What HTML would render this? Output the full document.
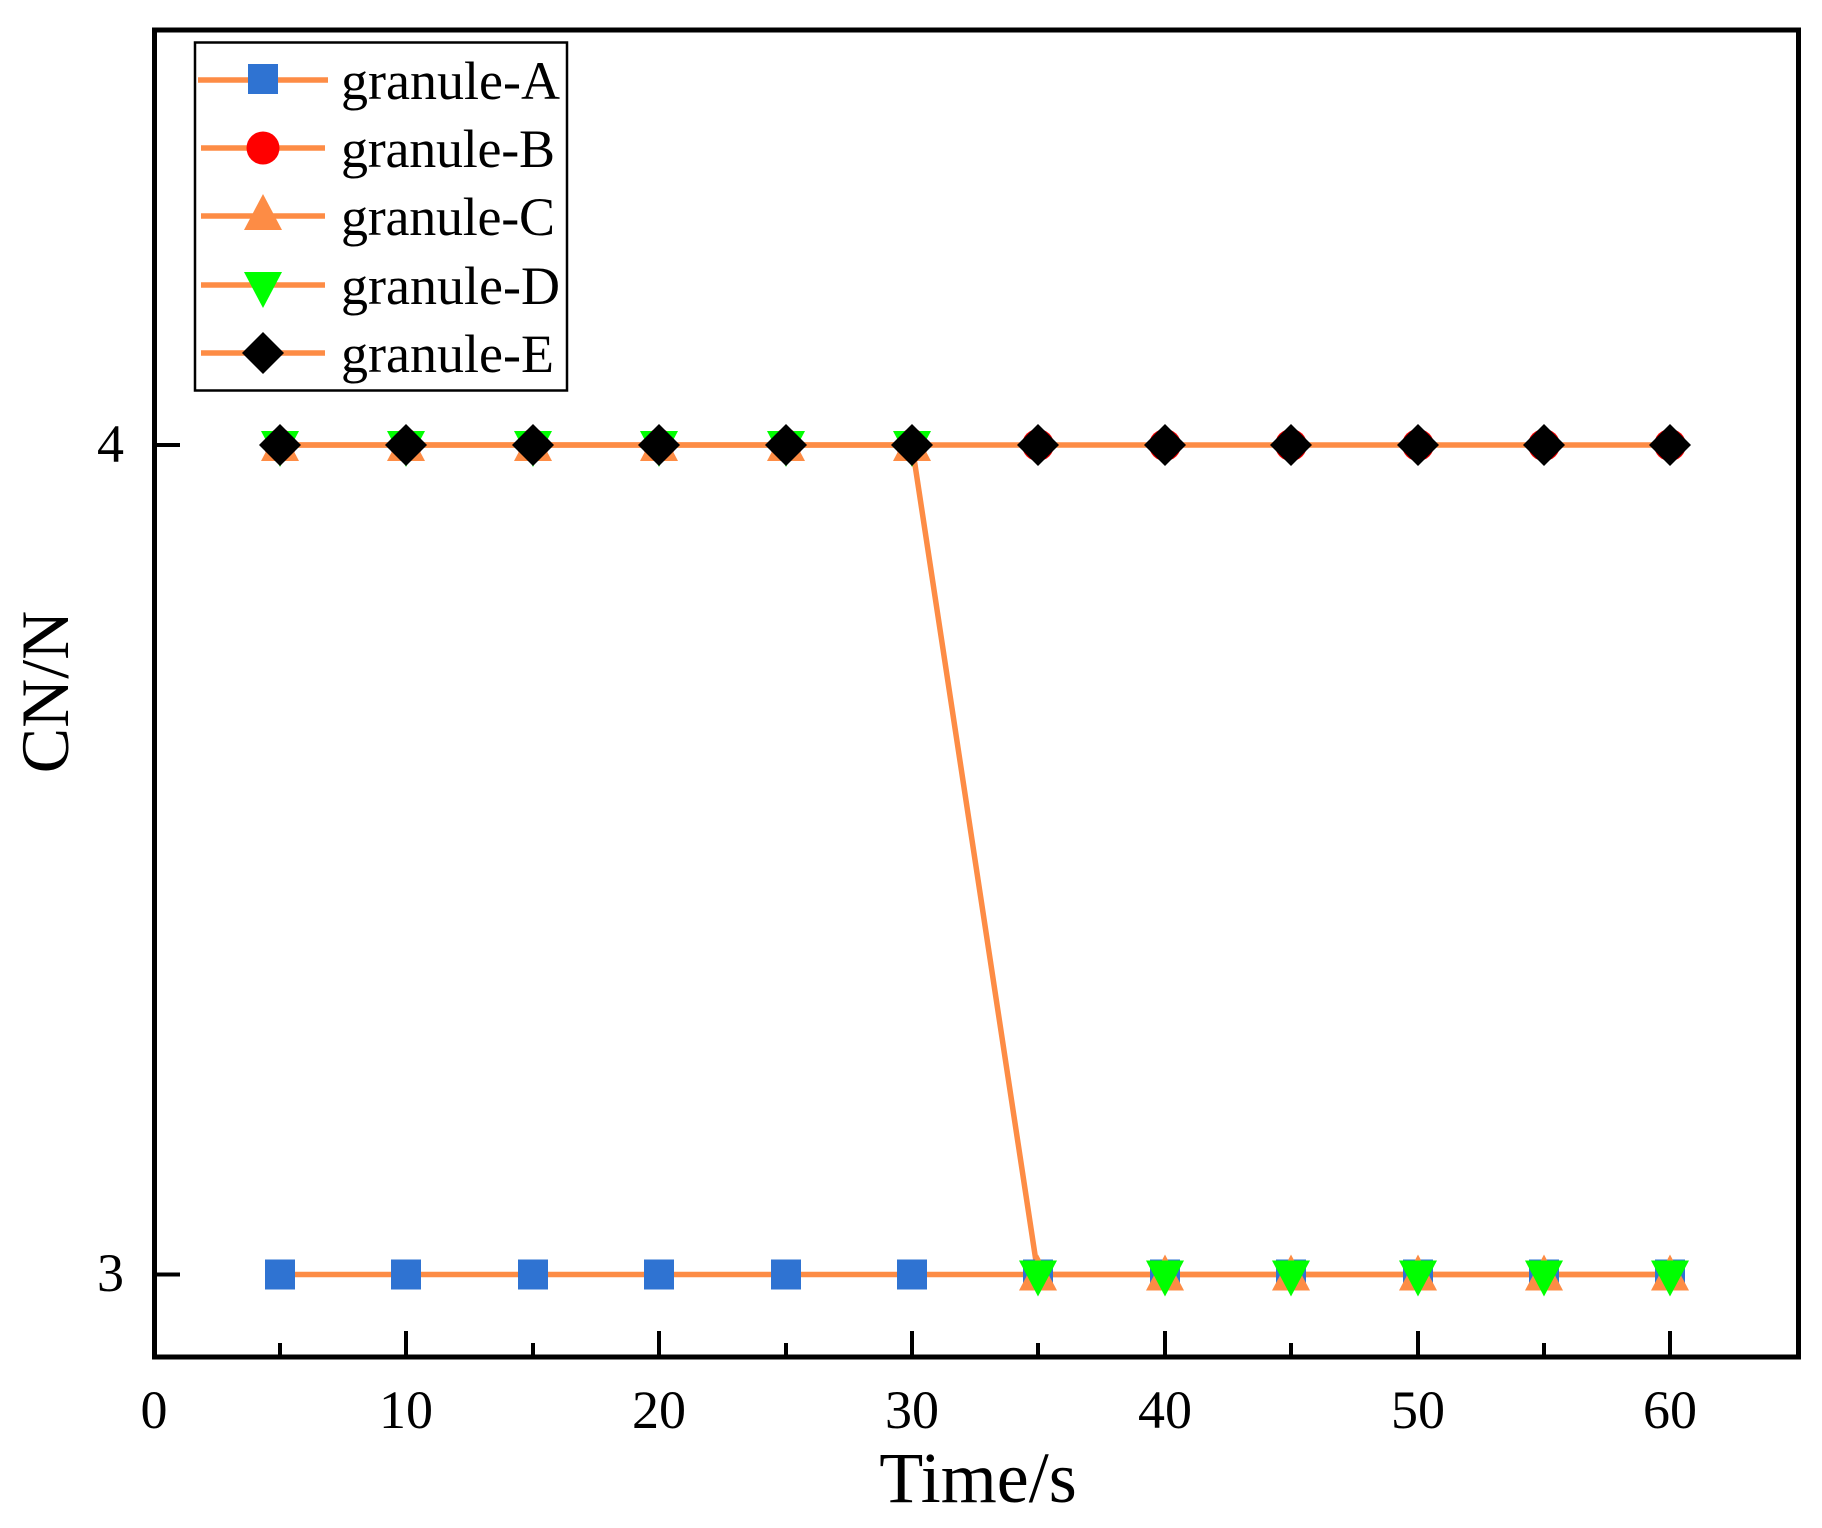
<!DOCTYPE html>
<html><head><meta charset="utf-8"><style>html,body{margin:0;padding:0;background:#fff}svg{display:block}</style></head>
<body>
<svg width="1822" height="1528" viewBox="0 0 1822 1528" xmlns="http://www.w3.org/2000/svg" font-family="'Liberation Serif', serif">
<defs>
<rect id="sq" x="-15" y="-15" width="30" height="30" fill="#2F73D2"/>
<circle id="ci" r="16" fill="#FF0000"/>
<polygon id="tu" points="0,-20 19,16 -19,16" fill="#FD8C45"/>
<polygon id="td" points="0,22 19,-14 -19,-14" fill="#00FF00"/>
<polygon id="di" points="0,-21 21,0 0,21 -21,0" fill="#000"/>
</defs>
<g stroke="#FD8C45" stroke-width="5.5" fill="none">
<line x1="280" y1="1274.5" x2="1670" y2="1274.5"/>
<line x1="280" y1="445" x2="1670" y2="445"/>
<polyline points="280,445 912,445 1038,1274.5 1670,1274.5"/>
</g>
<g id="markers">
<use href="#sq" x="280" y="1274.5"/><use href="#sq" x="406" y="1274.5"/><use href="#sq" x="533" y="1274.5"/><use href="#sq" x="659" y="1274.5"/><use href="#sq" x="786" y="1274.5"/><use href="#sq" x="912" y="1274.5"/><use href="#sq" x="1038" y="1274.5"/><use href="#sq" x="1165" y="1274.5"/><use href="#sq" x="1291" y="1274.5"/><use href="#sq" x="1418" y="1274.5"/><use href="#sq" x="1544" y="1274.5"/><use href="#sq" x="1670" y="1274.5"/>
<use href="#ci" x="280" y="445"/><use href="#ci" x="406" y="445"/><use href="#ci" x="533" y="445"/><use href="#ci" x="659" y="445"/><use href="#ci" x="786" y="445"/><use href="#ci" x="912" y="445"/><use href="#ci" x="1038" y="445"/><use href="#ci" x="1165" y="445"/><use href="#ci" x="1291" y="445"/><use href="#ci" x="1418" y="445"/><use href="#ci" x="1544" y="445"/><use href="#ci" x="1670" y="445"/>
<use href="#tu" x="280" y="445"/><use href="#tu" x="406" y="445"/><use href="#tu" x="533" y="445"/><use href="#tu" x="659" y="445"/><use href="#tu" x="786" y="445"/><use href="#tu" x="912" y="445"/><use href="#tu" x="1038" y="1274.5"/><use href="#tu" x="1165" y="1274.5"/><use href="#tu" x="1291" y="1274.5"/><use href="#tu" x="1418" y="1274.5"/><use href="#tu" x="1544" y="1274.5"/><use href="#tu" x="1670" y="1274.5"/>
<use href="#td" x="280" y="445"/><use href="#td" x="406" y="445"/><use href="#td" x="533" y="445"/><use href="#td" x="659" y="445"/><use href="#td" x="786" y="445"/><use href="#td" x="912" y="445"/><use href="#td" x="1038" y="1274.5"/><use href="#td" x="1165" y="1274.5"/><use href="#td" x="1291" y="1274.5"/><use href="#td" x="1418" y="1274.5"/><use href="#td" x="1544" y="1274.5"/><use href="#td" x="1670" y="1274.5"/>
<use href="#di" x="280" y="445"/><use href="#di" x="406" y="445"/><use href="#di" x="533" y="445"/><use href="#di" x="659" y="445"/><use href="#di" x="786" y="445"/><use href="#di" x="912" y="445"/><use href="#di" x="1038" y="445"/><use href="#di" x="1165" y="445"/><use href="#di" x="1291" y="445"/><use href="#di" x="1418" y="445"/><use href="#di" x="1544" y="445"/><use href="#di" x="1670" y="445"/>
</g>
<rect x="154.5" y="30" width="1644" height="1327" fill="none" stroke="#000" stroke-width="5"/>
<g stroke="#000" stroke-width="4">
<line x1="154" y1="445" x2="180" y2="445"/>
<line x1="154" y1="1274.5" x2="180" y2="1274.5"/>
<line x1="280" y1="1355" x2="280" y2="1343"/>
<line x1="406" y1="1355" x2="406" y2="1331"/>
<line x1="533" y1="1355" x2="533" y2="1343"/>
<line x1="659" y1="1355" x2="659" y2="1331"/>
<line x1="786" y1="1355" x2="786" y2="1343"/>
<line x1="912" y1="1355" x2="912" y2="1331"/>
<line x1="1038" y1="1355" x2="1038" y2="1343"/>
<line x1="1165" y1="1355" x2="1165" y2="1331"/>
<line x1="1291" y1="1355" x2="1291" y2="1343"/>
<line x1="1418" y1="1355" x2="1418" y2="1331"/>
<line x1="1544" y1="1355" x2="1544" y2="1343"/>
<line x1="1670" y1="1355" x2="1670" y2="1331"/>
</g>
<g font-size="54" fill="#000">
<text x="124" y="462" text-anchor="end">4</text>
<text x="124" y="1291" text-anchor="end">3</text>
<g text-anchor="middle">
<text x="154" y="1428">0</text>
<text x="406" y="1428">10</text>
<text x="659" y="1428">20</text>
<text x="912" y="1428">30</text>
<text x="1165" y="1428">40</text>
<text x="1418" y="1428">50</text>
<text x="1670" y="1428">60</text>
</g>
</g>
<text x="978" y="1502" font-size="72" text-anchor="middle">Time/s</text>
<text transform="translate(68,692) rotate(-90)" font-size="68" text-anchor="middle">CN/N</text>
<rect x="195" y="42.5" width="372" height="348" fill="#fff" stroke="#000" stroke-width="2.5"/>
<g stroke="#FD8C45" stroke-width="5.5">
<line x1="198" y1="80" x2="328" y2="80"/>
<line x1="201" y1="148" x2="325" y2="148"/>
<line x1="201" y1="216" x2="325" y2="216"/>
<line x1="201" y1="285" x2="325" y2="285"/>
<line x1="201" y1="353" x2="325" y2="353"/>
</g>
<use href="#sq" x="263" y="79"/>
<circle cx="263" cy="148" r="16.5" fill="#FF0000"/>
<use href="#tu" x="263" y="214"/>
<use href="#td" x="263" y="286"/>
<use href="#di" x="263" y="353"/>
<g font-size="54" fill="#000">
<text x="341" y="99" textLength="219">granule-A</text>
<text x="341" y="167" textLength="214">granule-B</text>
<text x="341" y="235" textLength="214">granule-C</text>
<text x="341" y="304" textLength="219">granule-D</text>
<text x="341" y="372" textLength="213">granule-E</text>
</g>
</svg>
</body></html>
